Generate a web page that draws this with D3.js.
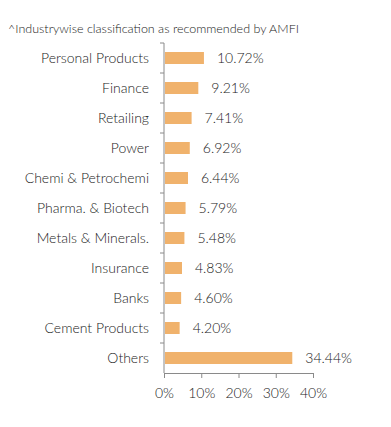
<!DOCTYPE html>
<html lang="en">
<head>
  <meta charset="UTF-8">
  <title>Industry classification</title>
  <script src="https://d3js.org/d3.v7.min.js"></script>
  <style>
    body { margin: 0; background: #fff; }
    svg text { font-family: Lato, sans-serif; fill: #222; font-weight: 300; }
    .title { font-size: 12.5px; }
    .cat text { font-size: 14px; }
    .val { font-size: 14px; }
    .xaxis text { font-size: 14px; }
    .domain, .tick line { stroke: #8a8a8a; }
  </style>
</head>
<body>
  <svg width="391" height="427"></svg>
  <script>
    const categories = ['Personal Products', 'Finance', 'Retailing', 'Power', 'Chemi & Petrochemi',
      'Pharma. & Biotech', 'Metals & Minerals.', 'Insurance', 'Banks', 'Cement Products', 'Others'];
    const values = [10.72, 9.21, 7.41, 6.92, 6.44, 5.79, 5.48, 4.83, 4.60, 4.20, 34.44];
    const xTicks = [0, 10, 20, 30, 40];

    const svg = d3.select('svg');
    const plotLeft = 164, plotRight = 313, plotTop = 43, plotBottom = 373;

    const x = d3.scaleLinear().domain([0, 40]).range([plotLeft, plotRight]);
    const y = d3.scaleBand().domain(categories).range([plotTop, plotBottom]).paddingInner(0.6).paddingOuter(0.3);
    const yb = d3.scaleBand().domain(categories).range([plotTop, plotBottom]);

    svg.append('text')
      .attr('class', 'title')
      .attr('x', 8)
      .attr('y', 33)
      .text('^Industrywise classification as recommended by AMFI');

    // category axis: ticks sit between the bands
    const cat = svg.append('g').attr('class', 'cat');
    cat.append('line')
      .attr('class', 'domain')
      .attr('x1', plotLeft).attr('x2', plotLeft)
      .attr('y1', plotTop).attr('y2', plotBottom);
    cat.selectAll('.tick')
      .data(categories)
      .enter()
      .append('line')
      .attr('class', 'tick')
      .attr('x1', plotLeft - 4).attr('x2', plotLeft)
      .attr('y1', d => yb(d)).attr('y2', d => yb(d))
      .style('stroke', '#8a8a8a');
    cat.selectAll('text')
      .data(categories)
      .enter()
      .append('text')
      .attr('x', 149)
      .attr('y', d => yb(d) + yb.bandwidth() / 2)
      .attr('dy', '0.35em')
      .attr('text-anchor', 'end')
      .text(d => d);

    svg.selectAll('.bar')
      .data(values)
      .enter()
      .append('rect')
      .attr('class', 'bar')
      .attr('x', x(0) + 1)
      .attr('y', (d, i) => y(categories[i]))
      .attr('width', d => x(d) - x(0) - 1)
      .attr('height', y.bandwidth())
      .attr('fill', '#f0b26c');

    svg.selectAll('.val')
      .data(values)
      .enter()
      .append('text')
      .attr('class', 'val')
      .attr('x', d => x(d) + 13)
      .attr('y', (d, i) => y(categories[i]) + y.bandwidth() / 2)
      .attr('dy', '0.35em')
      .text(d => d.toFixed(2) + '%');

    svg.append('g')
      .attr('class', 'xaxis')
      .attr('transform', `translate(0,${plotBottom})`)
      .call(d3.axisBottom(x).tickValues(xTicks).tickSize(5).tickSizeOuter(0).tickFormat(d => d + '%'))
      .call(g => g.selectAll('text').attr('dy', '1.2em'));
  </script>
</body>
</html>
